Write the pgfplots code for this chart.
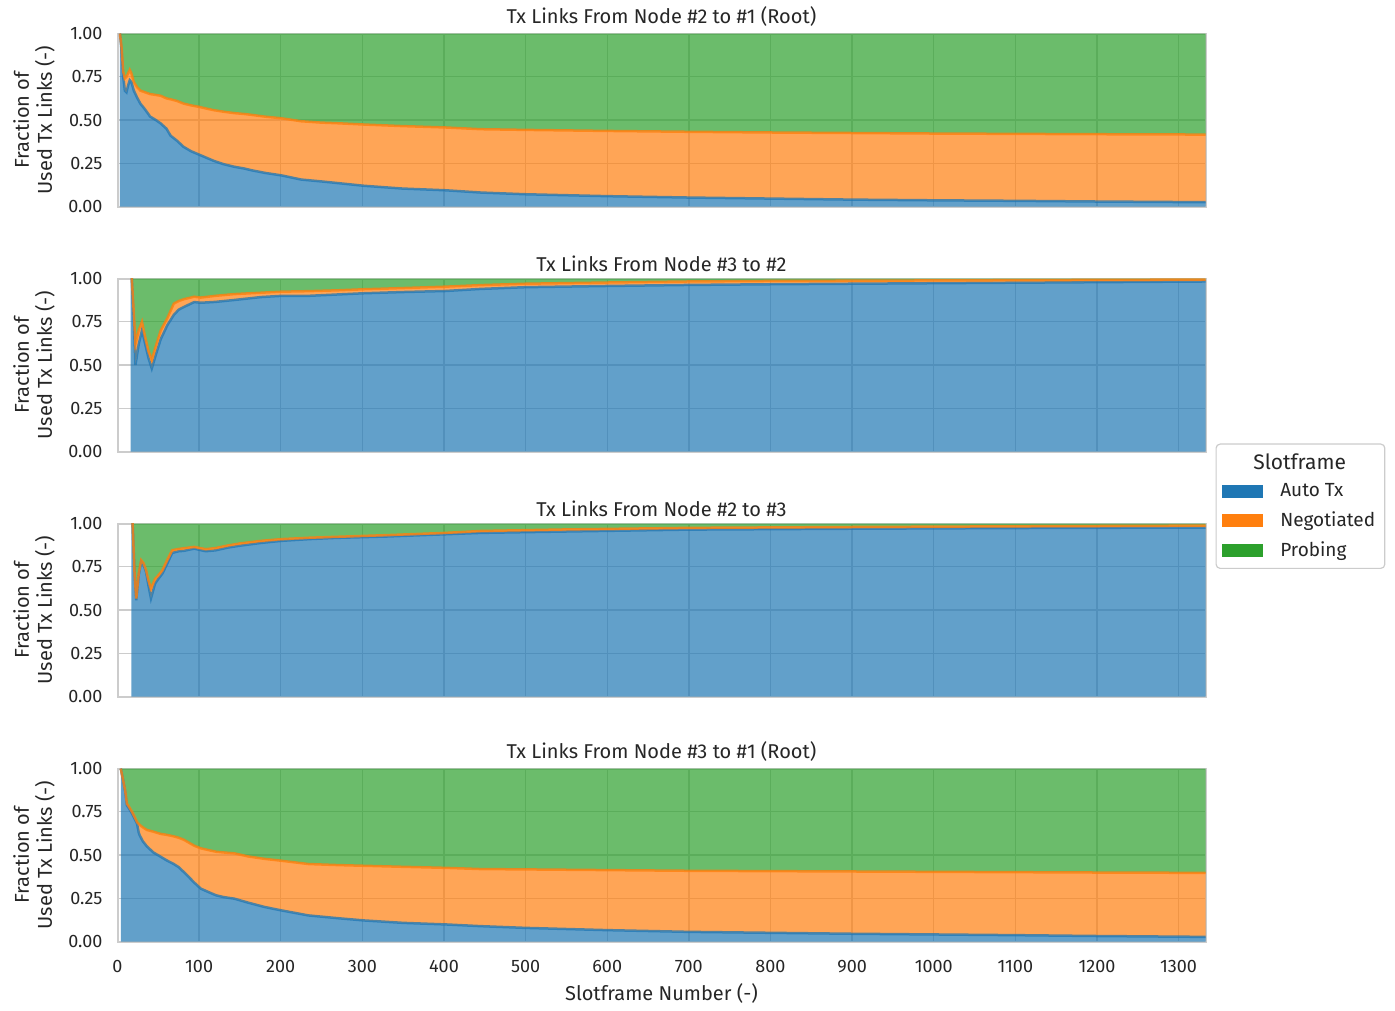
\documentclass[border=0pt]{standalone}
\usepackage{pgfplots}
\pgfplotsset{compat=1.18}
\usepackage{pgfplotstable}
\usepgfplotslibrary{fillbetween}
\usepackage{fontspec}
\setmainfont{Fira Sans}
\definecolor{tabblue}{HTML}{1F77B4}
\definecolor{taborange}{HTML}{FF7F0E}
\definecolor{tabgreen}{HTML}{2CA02C}
\definecolor{gridc}{HTML}{CCCCCC}
\definecolor{textc}{HTML}{262626}

% x, b = top of Auto Tx, o = top of Negotiated (cumulative)
\pgfplotstableread{
x b o
3 1.00 1.00
5 0.90 0.92
7 0.75 0.78
9 0.67 0.74
11 0.66 0.75
13 0.70 0.77
15 0.73 0.79
17 0.72 0.77
20 0.67 0.72
24 0.63 0.69
28 0.595 0.67
34 0.56 0.66
40 0.52 0.65
47 0.50 0.645
53 0.48 0.64
60 0.45 0.625
65 0.41 0.62
73 0.38 0.61
81 0.345 0.595
90 0.32 0.585
100 0.30 0.576
110 0.28 0.565
118 0.264 0.557
130 0.245 0.548
143 0.23 0.54
155 0.22 0.535
164 0.21 0.53
180 0.195 0.52
201 0.18 0.51
225 0.156 0.493
250 0.145 0.485
267 0.137 0.482
302 0.12 0.474
349 0.104 0.465
402 0.094 0.457
445 0.081 0.447
500 0.071 0.443
600 0.060 0.437
700 0.052 0.432
800 0.046 0.428
900 0.040 0.425
1000 0.036 0.422
1100 0.033 0.420
1200 0.029 0.418
1333 0.025 0.416
}\dataA

\pgfplotstableread{
x b o
16 1.00 1.00
17.5 1.00 1.00
20 0.75 0.80
22 0.50 0.62
26 0.62 0.70
30 0.70 0.75
34 0.62 0.66
38 0.54 0.58
42 0.48 0.53
47 0.56 0.61
53 0.65 0.70
61 0.73 0.77
69 0.79 0.855
75 0.82 0.87
81 0.835 0.88
94 0.864 0.895
102 0.86 0.89
120 0.865 0.90
143 0.876 0.91
176 0.893 0.918
201 0.90 0.924
234 0.90 0.927
270 0.908 0.932
302 0.915 0.938
350 0.922 0.945
402 0.928 0.953
445 0.94 0.962
500 0.95 0.97
600 0.957 0.977
700 0.963 0.983
800 0.967 0.986
1000 0.973 0.989
1200 0.979 0.992
1333 0.983 0.994
}\dataB

\pgfplotstableread{
x b o
17 1.00 1.00
18.5 1.00 1.00
21 0.70 0.70
23 0.557 0.566
26 0.70 0.71
29 0.78 0.788
32 0.76 0.77
35 0.72 0.73
38 0.64 0.67
41 0.567 0.624
46 0.653 0.68
50 0.68 0.70
55 0.711 0.73
61 0.769 0.79
67 0.83 0.846
75 0.84 0.853
81 0.842 0.857
94 0.855 0.865
108 0.84 0.852
120 0.845 0.858
135 0.861 0.873
150 0.872 0.885
176 0.888 0.90
201 0.90 0.91
235 0.91 0.918
267 0.917 0.923
330 0.925 0.933
402 0.938 0.946
445 0.946 0.957
550 0.954 0.966
700 0.965 0.975
900 0.970 0.980
1100 0.974 0.984
1333 0.977 0.988
}\dataC

\pgfplotstableread{
x b o
4 1.00 1.00
7 0.93 0.93
9.5 0.864 0.87
11.5 0.787 0.797
14 0.77 0.78
18 0.738 0.748
22 0.70 0.71
24 0.68 0.69
26 0.63 0.68
27 0.616 0.675
31 0.58 0.66
36 0.55 0.645
44 0.515 0.635
53 0.49 0.622
60 0.47 0.617
69 0.448 0.608
75 0.43 0.60
81 0.403 0.589
88 0.37 0.57
94 0.341 0.554
102 0.306 0.539
112 0.285 0.528
121 0.267 0.519
130 0.257 0.515
143 0.248 0.51
160 0.225 0.492
180 0.20 0.478
201 0.18 0.467
234 0.151 0.448
270 0.135 0.442
302 0.122 0.438
350 0.108 0.432
402 0.099 0.426
445 0.089 0.419
500 0.079 0.417
600 0.066 0.413
700 0.056 0.409
900 0.045 0.405
1000 0.041 0.403
1100 0.037 0.401
1200 0.032 0.399
1333 0.027 0.397
}\dataD

\pgfplotsset{
  panel/.style={
    width=544pt, height=86.5pt, scale only axis,
    xmin=0, xmax=1333, ymin=0, ymax=1,
    xtick={0,100,...,1300}, ytick={0,0.25,0.5,0.75,1},
    grid=major, grid style={color=gridc, line width=0.7pt},
    axis line style={color=gridc, line width=1pt},
    major tick length=0pt,
    tick label style={font=\fontsize{9}{10}\selectfont, color=textc},
    yticklabel style={/pgf/number format/.cd, fixed, fixed zerofill, precision=2, /tikz/.cd, xshift=-4pt},
    xticklabel style={/pgf/number format/1000 sep={}, yshift=-6pt},
    /pgf/number format/assume math mode=true,
    scaled ticks=false,
    title style={font=\fontsize{10}{12}\selectfont, color=textc, yshift=-6pt},
    ylabel style={align=center, font=\fontsize{10}{11.5}\selectfont, color=textc},
    ylabel={Fraction of\\Used Tx Links (-)},
    xlabel style={font=\fontsize{10}{12}\selectfont, color=textc, yshift=1.5pt},
    axis on top=false,
  },
}

\newcommand{\stackpanel}[1]{%
  \addplot[draw=none, name path=z, forget plot] table[x=x, y expr=0] {#1};
  \addplot[draw=none, name path=b, forget plot] table[x=x, y=b] {#1};
  \addplot[draw=none, name path=o, forget plot] table[x=x, y=o] {#1};
  \addplot[draw=none, name path=t, forget plot] table[x=x, y expr=1] {#1};
  \addplot[fill=tabblue, fill opacity=0.7, draw=none, forget plot] fill between[of=b and z];
  \addplot[fill=taborange, fill opacity=0.7, draw=none, forget plot] fill between[of=o and b];
  \addplot[fill=tabgreen, fill opacity=0.7, draw=none, forget plot] fill between[of=t and o];
  \addplot[color=tabblue, draw opacity=0.75, line width=1.25pt, forget plot] table[x=x, y=b] {#1};
  \addplot[color=taborange, draw opacity=0.8, line width=1.25pt, forget plot] table[x=x, y=o] {#1};
}

\begin{document}
\begin{tikzpicture}
\begin{axis}[panel, at={(0pt,0pt)}, xticklabels={},
  title={Tx Links From Node \#2 to \#1 (Root)}]
\stackpanel{\dataA}
\end{axis}

\begin{axis}[panel, at={(0pt,-122.5pt)}, xticklabels={},
  title={Tx Links From Node \#3 to \#2},
  legend style={at={(1.0092,0.0465)}, anchor=north west,
    draw=gridc, rounded corners=2pt, line width=0.6pt,
    font=\fontsize{9.5}{11}\selectfont, text=textc,
    row sep=1.9pt, inner xsep=2.8pt, inner ysep=2.6pt},
  legend cell align=left,
  legend image code/.code={\fill[#1, draw=none, sharp corners] (0pt,-3.3pt) rectangle (20.5pt,3.3pt); \path (27pt,0pt);}]
\stackpanel{\dataB}
\addlegendimage{empty legend}
\addlegendentry{\hspace*{-13.5pt}\fontsize{10.5}{12}\selectfont Slotframe}
\addlegendimage{fill=tabblue}
\addlegendentry{Auto Tx}
\addlegendimage{fill=taborange}
\addlegendentry{Negotiated}
\addlegendimage{fill=tabgreen}
\addlegendentry{Probing}
\end{axis}

\begin{axis}[panel, at={(0pt,-245pt)}, xticklabels={},
  title={Tx Links From Node \#2 to \#3}]
\stackpanel{\dataC}
\end{axis}

\begin{axis}[panel, at={(0pt,-367.5pt)},
  title={Tx Links From Node \#3 to \#1 (Root)},
  xlabel={Slotframe Number (-)}]
\stackpanel{\dataD}
\end{axis}
\path (-58.75pt,-401pt) rectangle (638.75pt,102.75pt);
\end{tikzpicture}
\end{document}
